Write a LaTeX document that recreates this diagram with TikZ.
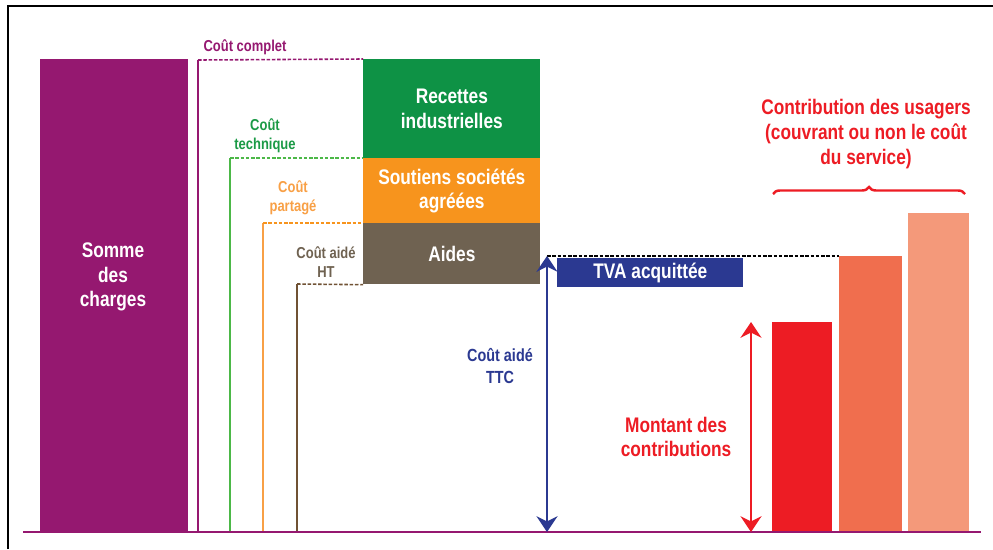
\documentclass[tikz,border=0pt]{standalone}
\usepackage{fontspec}
\setmainfont{Liberation Sans}[FakeStretch=0.82]
\usetikzlibrary{arrows.meta,positioning,calc,decorations.pathreplacing}

\definecolor{somme}{RGB}{149,24,112}
\definecolor{vert}{RGB}{14,146,69}
\definecolor{vertclair}{RGB}{76,184,72}
\definecolor{orange}{RGB}{247,148,29}
\definecolor{orangeclair}{RGB}{248,160,70}
\definecolor{brun}{RGB}{111,98,81}
\definecolor{brunfonce}{RGB}{112,82,52}
\definecolor{bleu}{RGB}{43,57,145}
\definecolor{rouge}{RGB}{237,28,36}
\definecolor{rougeclair}{RGB}{240,110,78}
\definecolor{saumon}{RGB}{244,153,122}

\begin{document}
\begin{tikzpicture}[x=0.02cm, y=-0.02cm,
    block/.style={anchor=north west, inner sep=0pt, align=center, font=\bfseries\large, text=white},
    cout/.style={line width=1.1pt},
    seuil/.style={line width=0.9pt, dash pattern=on 2pt off 1pt},
    lbl/.style={align=center, font=\bfseries\small},
    fleche/.style={{Stealth[length=9pt,width=12pt,inset=3pt]}-{Stealth[length=9pt,width=12pt,inset=3pt]}}
]
    \useasboundingbox (0,0) rectangle (993,549);
    \draw[line width=1.1pt] (8,549) -- (8,6) -- (993,6);

    % Blocs
    \node[block, fill=somme, minimum width=2.96cm, minimum height=9.44cm] (somme) at (40,59) {};
    \node[align=center, font=\bfseries\large, text=white] (sommetxt) at (113,277) {Somme\\des\\charges};
    \node[block, fill=vert, minimum width=3.54cm, minimum height=1.98cm] (recettes) at (363,59) {Recettes\\industrielles};
    \node[block, fill=orange, minimum width=3.54cm, minimum height=1.3cm] (soutiens) at (363,158) {Soutiens sociétés\\agréées};
    \node[block, fill=brun, minimum width=3.54cm, minimum height=1.22cm] (aides) at (363,223) {Aides};

    % Niveaux de cout
    \draw[cout, somme] (198,532) -- (198,60);
    \draw[seuil, somme] (198,60) -- (recettes.north west);
    \draw[cout, vertclair] (230,532) -- (230,158);
    \draw[seuil, vertclair] (230,158) -- (soutiens.north west);
    \draw[cout, orangeclair] (263,532) -- (263,223);
    \draw[seuil, orange] (263,223) -- (aides.north west);
    \draw[cout, brunfonce] (297,532) -- (297,284);
    \draw[seuil, brunfonce] (297,284) -- (aides.south west);

    \node[lbl, text=somme] (complet) at (245,47) {Coût complet};
    \node[lbl, text=vert!80!vertclair] (technique) at (265,136) {Coût\\technique};
    \node[lbl, text=orangeclair] (partage) at (293,198) {Coût\\partagé};
    \node[lbl, text=brun] (aideht) at (326,262) {Coût aidé\\HT};

    % TVA et cout TTC
    \node[block, fill=bleu, minimum width=3.72cm, minimum height=0.58cm] (tva) at (557,258) {TVA acquittée};
    \coordinate (ttchaut) at (547,256);
    \coordinate (ttcbas) at (547,532);

    % Contributions
    \node[block, fill=rouge, minimum width=1.2cm, minimum height=4.18cm] (barreA) at (772,322) {};
    \node[block, fill=rougeclair, minimum width=1.26cm, minimum height=5.5cm] (barreB) at (839,256) {};
    \node[block, fill=saumon, minimum width=1.22cm, minimum height=6.36cm] (barreC) at (908,213) {};
    \coordinate (mhaut) at (751,322);
    \coordinate (mbas) at (751,532);

    \draw[seuil, black] (ttchaut) -- (barreB.north west);
    \draw[line width=1.3pt, somme] (23,532) -- (981,532);
    \draw[fleche, bleu, line width=1.6pt] (ttchaut) -- (ttcbas);
    \draw[fleche, rouge, line width=1.4pt] (mhaut) -- (mbas);

    \node[align=center, font=\bfseries, text=bleu] (ttc) at (500,366) {Coût aidé\\TTC};
    \node[align=center, font=\bfseries\large, text=rouge] (montant) at (676,437) {Montant des\\contributions};

    \draw[rouge, line width=1.4pt, decorate, decoration={brace, amplitude=4pt}] (773,194) coordinate (accg) -- (965,194) coordinate (accd);
    \node[align=center, font=\bfseries\large, text=rouge] (usagers) at (866,134) {Contribution des usagers\\(couvrant ou non le coût\\du service)};
\end{tikzpicture}
\end{document}
